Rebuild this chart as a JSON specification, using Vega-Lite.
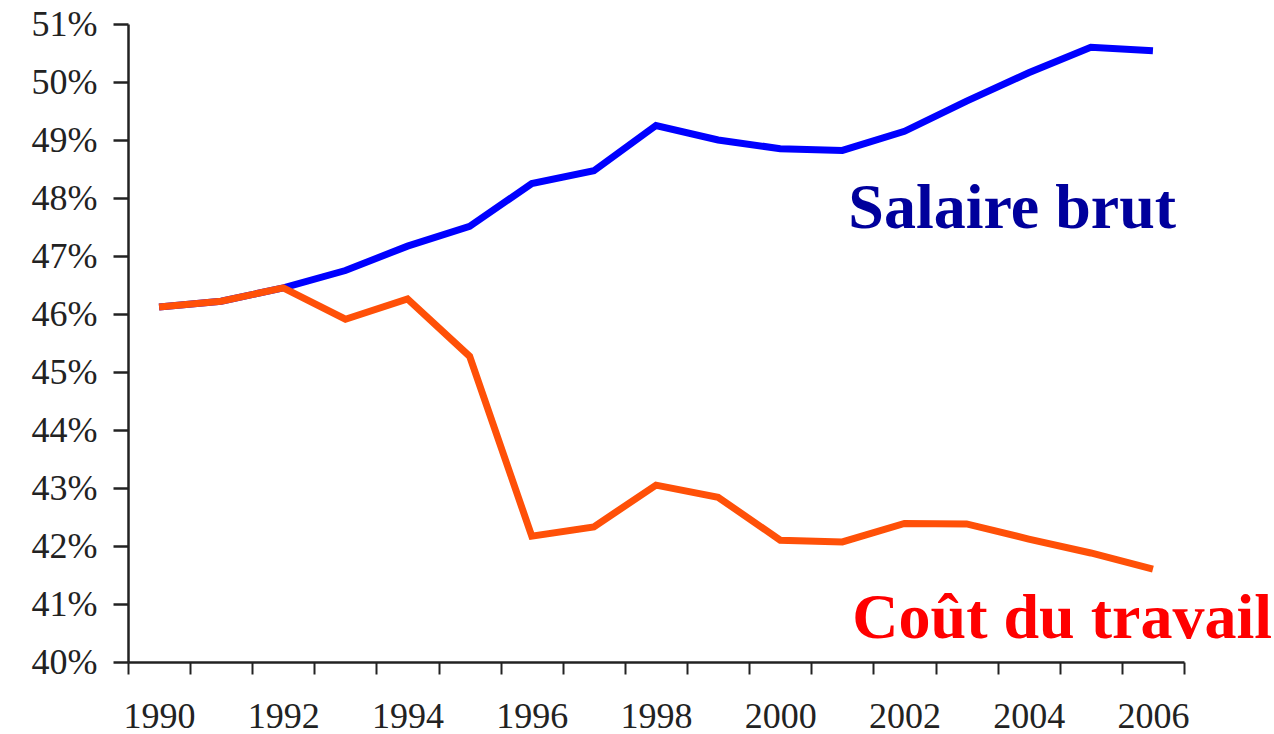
{
  "$schema": "https://vega.github.io/schema/vega-lite/v6.json",
  "width": 1056,
  "height": 638,
  "autosize": {"type": "none"},
  "padding": {"left": 128, "top": 24, "right": 90, "bottom": 72},
  "background": "white",
  "config": {"view": {"stroke": null}, "font": "Liberation Serif", "axis": {"labelFont": "Liberation Serif"}},
  "data": {
    "values": [
      {"year": 1990, "salaire": 46.12, "cout": 46.12},
      {"year": 1991, "salaire": 46.22, "cout": 46.22},
      {"year": 1992, "salaire": 46.45, "cout": 46.45},
      {"year": 1993, "salaire": 46.75, "cout": 45.91},
      {"year": 1994, "salaire": 47.17, "cout": 46.26},
      {"year": 1995, "salaire": 47.51, "cout": 45.27},
      {"year": 1996, "salaire": 48.25, "cout": 42.17},
      {"year": 1997, "salaire": 48.47, "cout": 42.33},
      {"year": 1998, "salaire": 49.25, "cout": 43.05},
      {"year": 1999, "salaire": 49.0, "cout": 42.84},
      {"year": 2000, "salaire": 48.85, "cout": 42.1},
      {"year": 2001, "salaire": 48.82, "cout": 42.07},
      {"year": 2002, "salaire": 49.15, "cout": 42.39},
      {"year": 2003, "salaire": 49.67, "cout": 42.38},
      {"year": 2004, "salaire": 50.16, "cout": 42.12},
      {"year": 2005, "salaire": 50.6, "cout": 41.88},
      {"year": 2006, "salaire": 50.54, "cout": 41.6}
    ]
  },
  "encoding": {
    "x": {
      "field": "year",
      "type": "ordinal",
      "scale": {"type": "band", "paddingInner": 0, "paddingOuter": 0},
      "axis": {
        "title": null,
        "tickBand": "extent",
        "labelAngle": 0,
        "labelOverlap": false,
        "labelExpr": "datum.value % 2 == 0 ? datum.label : ''",
        "labelFont": "Liberation Serif",
        "labelFontSize": 36,
        "labelColor": "#222222",
        "labelBaseline": "alphabetic",
        "labelPadding": 53,
        "tickSize": 12,
        "tickWidth": 2,
        "tickColor": "#222222",
        "domainColor": "#222222",
        "domainWidth": 2.5,
        "grid": false
      }
    }
  },
  "layer": [
    {
      "mark": {"type": "line", "color": "#0000FF", "strokeWidth": 7, "strokeJoin": "miter", "strokeCap": "butt"},
      "encoding": {
        "y": {
          "field": "salaire",
          "type": "quantitative",
          "scale": {"domain": [40, 51], "nice": false, "zero": false},
          "axis": {
            "title": null,
            "values": [40, 41, 42, 43, 44, 45, 46, 47, 48, 49, 50, 51],
            "labelExpr": "datum.value + '%'",
            "labelFont": "Liberation Serif",
            "labelFontSize": 36,
            "labelColor": "#222222",
            "labelPadding": 16,
            "tickSize": 15,
            "tickWidth": 2.5,
            "tickColor": "#222222",
            "domainColor": "#222222",
            "domainWidth": 2.5,
            "grid": false
          }
        }
      }
    },
    {
      "mark": {"type": "line", "color": "#FF5008", "strokeWidth": 7, "strokeJoin": "miter", "strokeCap": "butt"},
      "encoding": {
        "y": {"field": "cout", "type": "quantitative"}
      }
    },
    {
      "data": {"values": [{"year": 2001, "value": 47.49, "label": "Salaire brut"}]},
      "mark": {"type": "text", "align": "left", "baseline": "alphabetic", "dx": 6, "font": "Liberation Serif", "fontWeight": "bold", "fontSize": 64, "color": "#00009C"},
      "encoding": {
        "y": {"field": "value", "type": "quantitative"},
        "text": {"field": "label"}
      }
    },
    {
      "data": {"values": [{"year": 2001, "value": 40.41, "label": "Coût du travail"}]},
      "mark": {"type": "text", "align": "left", "baseline": "alphabetic", "dx": 10, "font": "Liberation Serif", "fontWeight": "bold", "fontSize": 64, "color": "#FF0000"},
      "encoding": {
        "y": {"field": "value", "type": "quantitative"},
        "text": {"field": "label"}
      }
    }
  ]
}
